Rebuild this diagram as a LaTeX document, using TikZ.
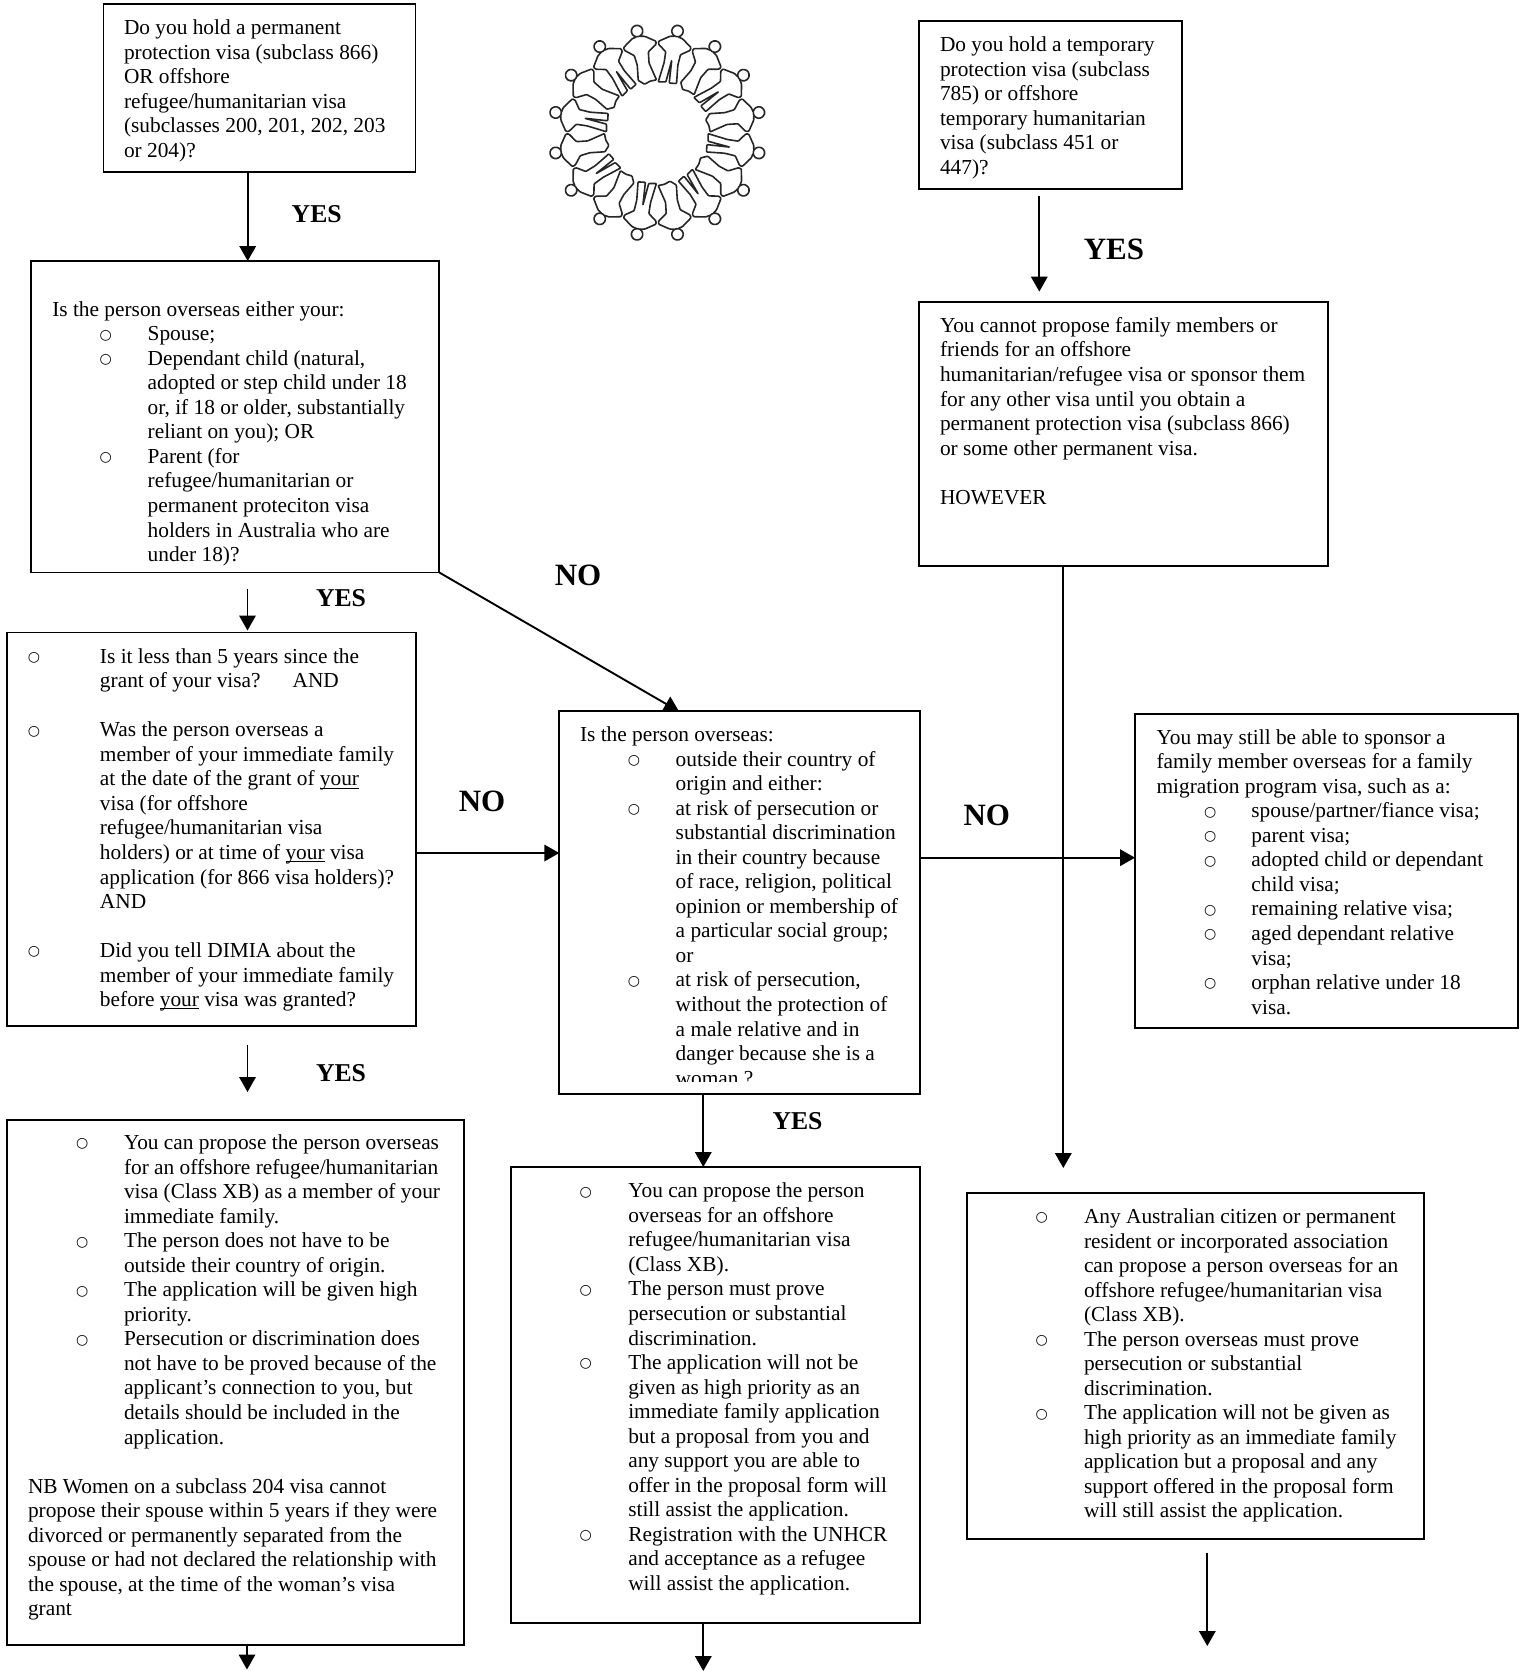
\documentclass[tikz,border=0pt]{standalone}
\usepackage{fontspec}
\setmainfont{Liberation Serif}
\newfontfamily\symf{DejaVu Sans}
\usetikzlibrary{arrows.meta}
\newcommand\setbul[2]{\gdef\bula{#1}\gdef\bulb{#2}}
\newcommand\Bu{\hspace*{\bula pt}\makebox[\bulb pt][l]{\raisebox{1.7pt}{\symf\fontsize{14}{14}\selectfont ○}}}
\newcommand\Tx{\hspace*{\dimexpr\bula pt+\bulb pt\relax}}
\newcommand\Fr{\rule{0pt}{16pt}}
\newcommand\und[1]{\setbox0\hbox{#1}\rlap{\rule[-2.6pt]{\wd0}{0.9pt}}#1}
\newcommand\bodyf{\fontsize{21.35}{24.53}\selectfont}
\tikzset{
  boxq/.style={draw=black,line width=1.9pt,anchor=north west,inner sep=0pt,outer sep=0pt},
  txt/.style={anchor=north west,inner sep=0pt,outer sep=0pt,align=left,font=\bodyf,yshift=15.75pt},
  lab/.style={font=\fontsize{25.7}{28}\selectfont\bfseries,inner sep=0pt},
  labb/.style={font=\fontsize{31}{34}\selectfont\bfseries,inner sep=0pt},
  arr/.style={line width=1.9pt,black,-{Triangle[width=16.5pt,length=15pt]}},
  person/.style={draw=black!85,line width=1.6pt,rounded corners=0.8pt,line join=round}
}
\begin{document}
\begin{tikzpicture}[x=1pt,y=-1pt]
\path[fill=white,use as bounding box] (0,0) rectangle (1526,1671);

% logo
\foreach \i in {0,...,15}{
\begin{scope}[shift={(657.3,132.7)},y=1pt,rotate={-11.25-22.5*\i}]
\ifodd\i\relax
  \path[person] (-2,98) -- (-6.5,97) -- (-16.5,90) -- (-16,87) -- (-7.5,80) -- (-6.5,70) -- (-8.5,55) -- (-3,50) -- (3,52) -- (9.5,52) -- (5.5,70) -- (7,81) -- (16,87) -- (16.5,90) -- (6.5,97) -- (2,98);
\else
  \path[person] (-2,98) -- (-6.5,97) -- (-16.5,90) -- (-16,87) -- (-7.5,81) -- (-7,70) -- (-9,50) -- (-1.5,51.5) -- (0,74) -- (2,51) -- (9.3,52) -- (7,70) -- (7.5,81) -- (16,87) -- (16.5,90) -- (6.5,97) -- (2,98);
\fi
  \draw[draw=black!85,line width=1.6pt,fill=white] (0,103.6) circle (5.7);
\end{scope}
}

% boxes
\node[boxq,minimum width=312pt,minimum height=168pt] (q1) at (103.5,4.3) {};
\node[boxq,minimum width=408pt,minimum height=311.5pt] (q2) at (31.3,261) {};
\node[boxq,minimum width=409pt,minimum height=393.5pt] (q3) at (7,632.5) {};
\node[boxq,minimum width=360.7pt,minimum height=382.6pt] (q4) at (559.3,711.4) {};
\node[boxq,minimum width=409pt,minimum height=456.4pt] (q5) at (511,1167) {};
\node[boxq,minimum width=457pt,minimum height=525.3pt] (q6) at (7,1119.7) {};
\node[boxq,minimum width=263pt,minimum height=168.3pt] (q7) at (919,20.7) {};
\node[boxq,minimum width=409pt,minimum height=264pt] (q8) at (919,301.6) {};
\node[boxq,minimum width=383pt,minimum height=314pt] (q9) at (1135,714) {};
\node[boxq,minimum width=456.7pt,minimum height=346pt] (q10) at (967,1193.3) {};

% texts
\node[txt] (t1) at (124,34.6) {\Fr Do you hold a permanent\\protection visa (subclass 866)\\OR offshore\\refugee/humanitarian visa\\(subclasses 200, 201, 202, 203\\or 204)?};

\setbul{47.2}{48.2}
\node[txt] (t2) at (52.3,316) {\Fr Is the person overseas either your:\\
\Bu Spouse;\\
\Bu Dependant child (natural,\\
\Tx adopted or step child under 18\\
\Tx or, if 18 or older, substantially\\
\Tx reliant on you); OR\\
\Bu Parent (for\\
\Tx refugee/humanitarian or\\
\Tx permanent proteciton visa\\
\Tx holders in Australia who are\\
\Tx under 18)?};

\setbul{0}{72.2}
\node[txt] (t3) at (27.8,663) {\Fr\Bu Is it less than 5 years since the\\
\Tx grant of your visa?\hspace{32pt}AND\\
\rule{0pt}{1pt}\\
\Bu Was the person overseas a\\
\Tx member of your immediate family\\
\Tx at the date of the grant of \und{your}\\
\Tx visa (for offshore\\
\Tx refugee/humanitarian visa\\
\Tx holders) or at time of \und{your} visa\\
\Tx application (for 866 visa holders)?\\
\Tx AND\\
\rule{0pt}{1pt}\\
\Bu Did you tell DIMIA about the\\
\Tx member of your immediate family\\
\Tx before \und{your} visa was granted?};

\setbul{47.8}{47.9}
\begin{scope}
\clip (559.3,711.4) rectangle (920,1081.5);
\node[txt] (t4) at (580,741.4) {\Fr Is the person overseas:\\
\Bu outside their country of\\
\Tx origin and either:\\
\Bu at risk of persecution or\\
\Tx substantial discrimination\\
\Tx in their country because\\
\Tx of race, religion, political\\
\Tx opinion or membership of\\
\Tx a particular social group;\\
\Tx or\\
\Bu at risk of persecution,\\
\Tx without the protection of\\
\Tx a male relative and in\\
\Tx danger because she is a\\
\Tx woman ?};
\end{scope}

\setbul{0}{48.8}
\node[txt] (t5) at (579.5,1197.6) {\Fr\Bu You can propose the person\\
\Tx overseas for an offshore\\
\Tx refugee/humanitarian visa\\
\Tx (Class XB).\\
\Bu The person must prove\\
\Tx persecution or substantial\\
\Tx discrimination.\\
\Bu The application will not be\\
\Tx given as high priority as an\\
\Tx immediate family application\\
\Tx but a proposal from you and\\
\Tx any support you are able to\\
\Tx offer in the proposal form will\\
\Tx still assist the application.\\
\Bu Registration with the UNHCR\\
\Tx and acceptance as a refugee\\
\Tx will assist the application.};

\setbul{48}{48}
\node[txt] (t6) at (28,1149.4) {\Fr\Bu You can propose the person overseas\\
\Tx for an offshore refugee/humanitarian\\
\Tx visa (Class XB) as a member of your\\
\Tx immediate family.\\
\Bu The person does not have to be\\
\Tx outside their country of origin.\\
\Bu The application will be given high\\
\Tx priority.\\
\Bu Persecution or discrimination does\\
\Tx not have to be proved because of the\\
\Tx applicant’s connection to you, but\\
\Tx details should be included in the\\
\Tx application.\\
\rule{0pt}{1pt}\\
NB Women on a subclass 204 visa cannot\\
propose their spouse within 5 years if they were\\
divorced or permanently separated from the\\
spouse or had not declared the relationship with\\
the spouse, at the time of the woman’s visa\\
grant};

\node[txt] (t7) at (940,51.5) {\Fr Do you hold a temporary\\protection visa (subclass\\785) or offshore\\temporary humanitarian\\visa (subclass 451 or\\447)?};

\node[txt] (t8) at (940,332.2) {\Fr You cannot propose family members or\\friends for an offshore\\humanitarian/refugee visa or sponsor them\\for any other visa until you obtain a\\permanent protection visa (subclass 866)\\or some other permanent visa.\\\rule{0pt}{1pt}\\HOWEVER};

\setbul{47.4}{47.4}
\node[txt] (t9) at (1156.6,744) {\Fr You may still be able to sponsor a\\
family member overseas for a family\\
migration program visa, such as a:\\
\Bu spouse/partner/fiance visa;\\
\Bu parent visa;\\
\Bu adopted child or dependant\\
\Tx child visa;\\
\Bu remaining relative visa;\\
\Bu aged dependant relative\\
\Tx visa;\\
\Bu orphan relative under 18\\
\Tx visa.};

\setbul{0}{48.5}
\node[txt] (t10) at (1035.5,1223.3) {\Fr\Bu Any Australian citizen or permanent\\
\Tx resident or incorporated association\\
\Tx can propose a person overseas for an\\
\Tx offshore refugee/humanitarian visa\\
\Tx (Class XB).\\
\Bu The person overseas must prove\\
\Tx persecution or substantial\\
\Tx discrimination.\\
\Bu The application will not be given as\\
\Tx high priority as an immediate family\\
\Tx application but a proposal and any\\
\Tx support offered in the proposal form\\
\Tx will still assist the application.};

% labels
\node[lab] (y1) at (316.7,214) {YES};
\node[lab] (y2) at (341,598) {YES};
\node[lab] (y3) at (341,1073) {YES};
\node[lab] (y4) at (797.5,1121.4) {YES};
\node[labb] (y5) at (1114,249.5) {YES};
\node[labb] (n1) at (578,575) {NO};
\node[labb] (n2) at (482,801) {NO};
\node[labb] (n3) at (986.8,815) {NO};

% connector anchors
\coordinate (a12) at (247.7,0);
\coordinate (a23s) at (247.5,588.6);
\coordinate (a23e) at (247.5,630.5);
\coordinate (a36s) at (247.5,1044.6);
\coordinate (a36e) at (247.5,1092);
\coordinate (a24) at (679,0);
\coordinate (a34) at (0,853);
\coordinate (a49) at (0,857.7);
\coordinate (a45) at (703.3,0);
\coordinate (a5e) at (703.3,1671);
\coordinate (a6) at (247,0);
\coordinate (a6e) at (247,1669.5);
\coordinate (a78s) at (1039.3,196);
\coordinate (a78e) at (1039.3,291.6);
\coordinate (a8) at (1063.3,0);
\coordinate (a8e) at (1063.3,1168);
\coordinate (a10s) at (1207.3,1552.7);
\coordinate (a10e) at (1207.3,1646);

% connectors
\draw[arr] (q1.south -| a12) -- (q2.north -| a12);
\draw[arr] (a23s) -- (a23e);
\draw[arr] (q2.south east) -- (q4.north -| a24);
\draw[arr] (q3.east |- a34) -- (q4.west |- a34);
\draw[arr] (a36s) -- (a36e);
\draw[arr] (q4.south -| a45) -- (q5.north -| a45);
\draw[arr] (q4.east |- a49) -- (q9.west |- a49);
\draw[arr] (q5.south -| a45) -- (a5e);
\draw[arr] (q6.south -| a6) -- (a6e);
\draw[arr] (a78s) -- (a78e);
\draw[arr] (q8.south -| a8) -- (a8e);
\draw[arr] (a10s) -- (a10e);
\end{tikzpicture}
\end{document}
